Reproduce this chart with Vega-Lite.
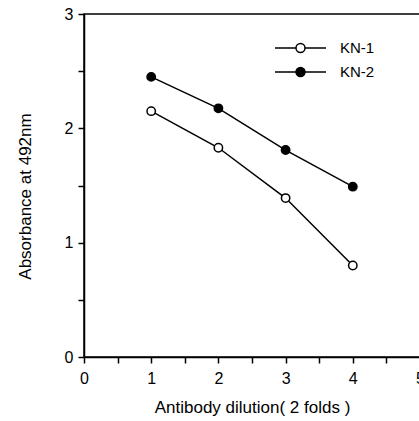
{
  "$schema": "https://vega.github.io/schema/vega-lite/v6.json",
  "width": 336,
  "height": 343,
  "autosize": "none",
  "padding": {"left": 84, "top": 14, "right": 0, "bottom": 64},
  "background": "white",
  "config": {
    "view": {"stroke": "black", "strokeWidth": 1.5},
    "font": "Liberation Sans",
    "axis": {
      "domainColor": "black", "domainWidth": 1.5, "tickColor": "black", "tickWidth": 1.5,
      "tickSize": 6, "labelColor": "black", "labelFont": "Liberation Sans", "labelFontSize": 16,
      "titleColor": "black", "titleFont": "Liberation Sans", "titleFontSize": 17, "titleFontWeight": "normal",
      "grid": false
    }
  },
  "data": {
    "values": [
      {"series": "KN-1", "dilution": 1, "absorbance": 2.15},
      {"series": "KN-1", "dilution": 2, "absorbance": 1.83},
      {"series": "KN-1", "dilution": 3, "absorbance": 1.39},
      {"series": "KN-1", "dilution": 4, "absorbance": 0.8},
      {"series": "KN-2", "dilution": 1, "absorbance": 2.45},
      {"series": "KN-2", "dilution": 2, "absorbance": 2.175},
      {"series": "KN-2", "dilution": 3, "absorbance": 1.81},
      {"series": "KN-2", "dilution": 4, "absorbance": 1.49}
    ]
  },
  "encoding": {
    "x": {
      "field": "dilution", "type": "quantitative",
      "scale": {"domain": [0, 5], "nice": false},
      "axis": {
        "title": "Antibody dilution( 2 folds )",
        "values": [0, 0.5, 1, 1.5, 2, 2.5, 3, 3.5, 4, 4.5, 5],
        "labelExpr": "datum.value % 1 === 0 ? format(datum.value, 'd') : ''",
        "labelPadding": 7, "titlePadding": 13, "labelFlush": false, "labelOverlap": false
      }
    },
    "y": {
      "field": "absorbance", "type": "quantitative",
      "scale": {"domain": [0, 3], "nice": false},
      "axis": {
        "title": "Absorbance at 492nm",
        "values": [0, 0.5, 1, 1.5, 2, 2.5, 3],
        "labelExpr": "datum.value % 1 === 0 ? format(datum.value, 'd') : ''",
        "labelPadding": 5, "titlePadding": 30, "titleY": 182, "labelFlush": false, "labelOverlap": false
      }
    }
  },
  "layer": [
    {
      "mark": {"type": "line", "color": "black", "strokeWidth": 1.5},
      "encoding": {"detail": {"field": "series"}}
    },
    {
      "mark": {"type": "point", "shape": "circle", "filled": true, "stroke": "black", "strokeWidth": 1.5, "size": 70, "opacity": 1},
      "encoding": {
        "fill": {
          "field": "series", "type": "nominal",
          "scale": {"domain": ["KN-1", "KN-2"], "range": ["white", "black"]},
          "legend": {
            "title": null,
            "orient": "none",
            "legendX": 190,
            "legendY": 22,
            "symbolType": "M-1,0H-0.176M0.176,0H1M-0.176,0A0.176,0.176,0,1,1,0.176,0A0.176,0.176,0,1,1,-0.176,0Z",
            "symbolSize": 2601,
            "symbolStrokeColor": "black",
            "symbolStrokeWidth": 1.5,
            "symbolOpacity": 1,
            "labelFont": "Liberation Sans",
            "labelFontSize": 15,
            "labelColor": "black",
            "labelOffset": 13,
            "clipHeight": 24,
            "rowPadding": 0,
            "padding": 0
          }
        }
      }
    }
  ]
}
